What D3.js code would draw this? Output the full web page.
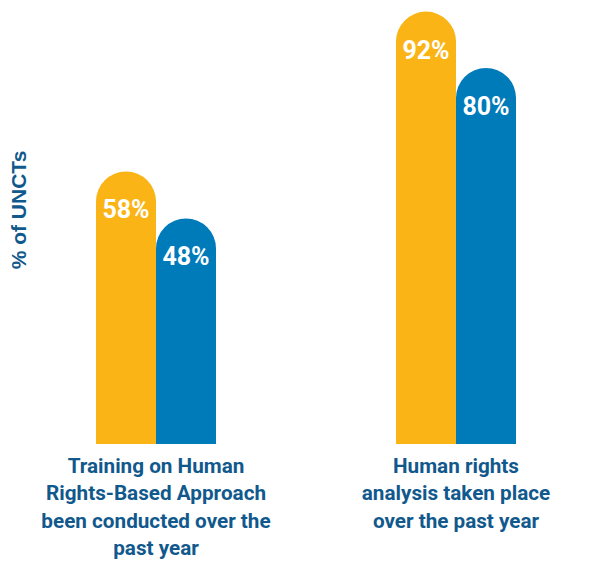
<!DOCTYPE html>
<html>
<head>
<meta charset="utf-8">
<script src="https://cdn.jsdelivr.net/npm/d3@7"></script>
<style>
    body { margin: 0; background: #fff; }
    svg { display: block; }
</style>
</head>
<body>
<div id="chart"></div>
<script>
// data
const categories = ['training', 'analysis'];
const categoryLabels = [
    ['Training on Human', 'Rights-Based Approach', 'been conducted over the', 'past year'],
    ['Human rights', 'analysis taken place', 'over the past year']
];
const seriesNames = ['first', 'second'];
const seriesColors = ['#fbb416', '#007bba'];
const firstValues = [58, 92];
const secondValues = [48, 80];
const yLabel = '% of UNCTs';

const width = 594;
const height = 563;
const textColor = '#11598c';

let margin = { top: 0, right: 0, bottom: 119, left: 6 };

let data = [];
categories.forEach((c, i) => {
    data.push({ cat: c, series: seriesNames[0], value: firstValues[i] });
    data.push({ cat: c, series: seriesNames[1], value: secondValues[i] });
});

let x = d3.scaleBand()
    .domain(categories)
    .range([margin.left, margin.left + 600]);

let xSub = d3.scaleBand()
    .domain(seriesNames)
    .range([-60, 60]);

let y = d3.scaleLinear()
    .domain([0, 100])
    .range([height - margin.bottom, height - margin.bottom - 470]);

let color = d3.scaleOrdinal()
    .domain(seriesNames)
    .range(seriesColors);

const svg = d3.select('#chart')
    .append('svg')
    .attr('width', width)
    .attr('height', height);

// bar with a round top
let barPath = (d) => {
    let x0 = x(d.cat) + x.bandwidth() / 2 + xSub(d.series);
    let w = xSub.bandwidth();
    let r = w / 2;
    let top = y(d.value);
    let bottom = y(0);
    return `M${x0},${bottom} L${x0},${top + r} A${r},${r} 0 0 1 ${x0 + w},${top + r} L${x0 + w},${bottom} Z`;
};

svg.selectAll('.bar')
    .data(data)
    .enter()
    .append('path')
    .attr('class', 'bar')
    .attr('d', barPath)
    .attr('fill', d => color(d.series));

svg.selectAll('.valueLabel')
    .data(data)
    .enter()
    .append('text')
    .attr('class', 'valueLabel')
    .attr('x', d => x(d.cat) + x.bandwidth() / 2 + xSub(d.series) + xSub.bandwidth() / 2)
    .attr('y', d => y(d.value) + 47)
    .attr('text-anchor', 'middle')
    .attr('fill', '#fff')
    .attr('font-family', 'Roboto, sans-serif')
    .attr('font-weight', 'bold')
    .attr('font-size', '25px')
    .text(d => d.value + '%');

// category labels
let catG = svg.selectAll('.catLabel')
    .data(categories)
    .enter()
    .append('text')
    .attr('class', 'catLabel')
    .attr('text-anchor', 'middle')
    .attr('fill', textColor)
    .attr('font-family', 'Roboto, sans-serif')
    .attr('font-weight', 'bold')
    .attr('font-size', '20.7px');

catG.each(function(d, i) {
    let t = d3.select(this);
    categoryLabels[i].forEach((line, j) => {
        t.append('tspan')
            .attr('x', x(d) + x.bandwidth() / 2)
            .attr('y', height - margin.bottom + 29 + j * 27.3)
            .text(line);
    });
});

svg.append('text')
    .attr('transform', 'translate(26, 210) rotate(270)')
    .attr('text-anchor', 'middle')
    .attr('fill', textColor)
    .attr('font-family', 'Liberation Sans, Arial, sans-serif')
    .attr('font-weight', 'bold')
    .attr('font-size', '21px')
    .text(yLabel);
</script>
</body>
</html>
